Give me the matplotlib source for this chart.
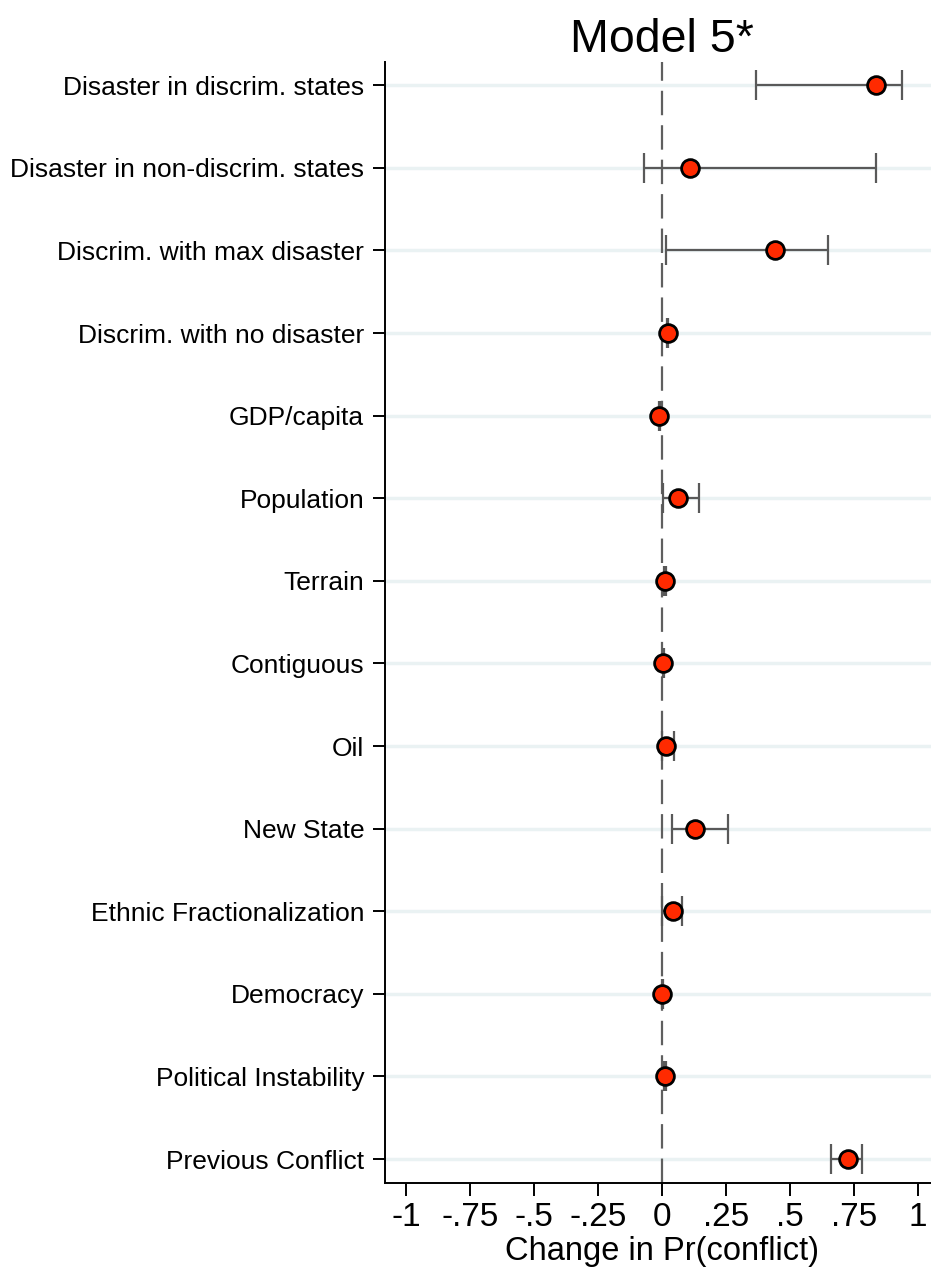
import matplotlib.pyplot as plt

plt.rcParams['font.family'] = ['Liberation Sans', 'DejaVu Sans']

# Variables, top to bottom
labels = ['Disaster in discrim. states', 'Disaster in non-discrim. states',
          'Discrim. with max disaster', 'Discrim. with no disaster',
          'GDP/capita', 'Population', 'Terrain', 'Contiguous', 'Oil',
          'New State', 'Ethnic Fractionalization', 'Democracy',
          'Political Instability', 'Previous Conflict']

# Point estimates and confidence bounds (change in Pr(conflict))
estimate = [0.836, 0.110, 0.443, 0.022, -0.010, 0.064, 0.012, 0.005, 0.016,
            0.130, 0.044, 0.001, 0.012, 0.727]
lower = [0.366, -0.070, 0.014, 0.019, -0.013, 0.005, 0.009, 0.002, -0.002,
         0.038, -0.001, -0.002, 0.009, 0.661]
upper = [0.938, 0.836, 0.648, 0.025, -0.007, 0.146, 0.015, 0.008, 0.045,
         0.258, 0.077, 0.004, 0.015, 0.782]

xticks = [-1, -0.75, -0.5, -0.25, 0, 0.25, 0.5, 0.75, 1]
xticklabels = ['-1', '-.75', '-.5', '-.25', '0', '.25', '.5', '.75', '1']

ypos = list(range(1, len(labels) + 1))
err_lo = [e - l for e, l in zip(estimate, lower)]
err_hi = [u - e for e, u in zip(estimate, upper)]

fig = plt.figure(figsize=(9.31, 12.7), dpi=100)
ax = fig.add_axes([0.4135, 0.0685, 0.5952, 0.8826])

for y in ypos:
    ax.axhline(y, color='#eaf2f3', lw=2.5, zorder=0)

ax.axvline(0, color='#5f5f5f', lw=1.6, dashes=(11, 4.5), zorder=1)

ax.errorbar(estimate, ypos, xerr=[err_lo, err_hi], fmt='none',
            ecolor='#595959', elinewidth=1.6, capsize=11, capthick=1.6, zorder=2)
ax.plot(estimate, ypos, 'o', color='#ff2a00', markeredgecolor='black',
        markeredgewidth=2.0, markersize=12.8, zorder=3)

ax.set_xlim(-1.082, 1.082)
ax.set_ylim(14.29, 0.72)
ax.set_yticks(ypos)
ax.set_yticklabels(labels, fontsize=19)
ax.set_xticks(xticks)
ax.set_xticklabels(xticklabels, fontsize=24)
ax.set_xlabel('Change in Pr(conflict)', fontsize=23.5, labelpad=2)
ax.set_title('Model 5*', fontsize=33.5, pad=4)

for side in ['top', 'right']:
    ax.spines[side].set_visible(False)
for side in ['left', 'bottom']:
    ax.spines[side].set_linewidth(1.4)
ax.tick_params(axis='both', length=9, width=1.4, direction='out')
ax.tick_params(axis='y', pad=6)
ax.tick_params(axis='x', pad=5)

fig.savefig('out.png', dpi=100)
